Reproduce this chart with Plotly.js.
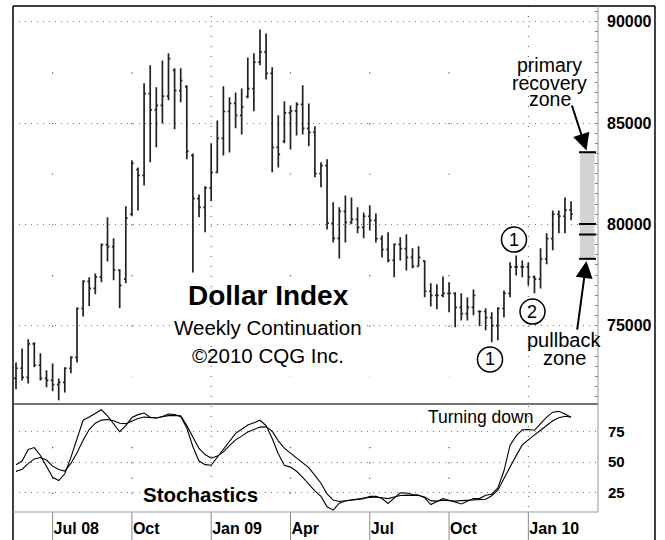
<!DOCTYPE html>
<html><head><meta charset="utf-8">
<script src="https://cdn.plot.ly/plotly-3.0.1.min.js"></script>
<style>html,body{margin:0;padding:0;background:#fff}#chart{width:665px;height:540px}</style>
</head><body><div id="chart"></div>
<script>
const weeks = ['2008-05-19','2008-05-26','2008-06-02','2008-06-09','2008-06-16','2008-06-23','2008-06-30','2008-07-07','2008-07-14','2008-07-21','2008-07-28','2008-08-04','2008-08-11','2008-08-18','2008-08-25','2008-09-01','2008-09-08','2008-09-15','2008-09-22','2008-09-29','2008-10-06','2008-10-13','2008-10-20','2008-10-27','2008-11-03','2008-11-10','2008-11-17','2008-11-24','2008-12-01','2008-12-08','2008-12-15','2008-12-22','2008-12-29','2009-01-05','2009-01-12','2009-01-19','2009-01-26','2009-02-02','2009-02-09','2009-02-16','2009-02-23','2009-03-02','2009-03-09','2009-03-16','2009-03-23','2009-03-30','2009-04-06','2009-04-13','2009-04-20','2009-04-27','2009-05-04','2009-05-11','2009-05-18','2009-05-25','2009-06-01','2009-06-08','2009-06-15','2009-06-22','2009-06-29','2009-07-06','2009-07-13','2009-07-20','2009-07-27','2009-08-03','2009-08-10','2009-08-17','2009-08-24','2009-08-31','2009-09-07','2009-09-14','2009-09-21','2009-09-28','2009-10-05','2009-10-12','2009-10-19','2009-10-26','2009-11-02','2009-11-09','2009-11-16','2009-11-23','2009-11-30','2009-12-07','2009-12-14','2009-12-21','2009-12-28','2010-01-04','2010-01-11','2010-01-18','2010-01-25','2010-02-01','2010-02-08','2010-02-15'];
const openP = [72400,72900,72450,74100,73050,72400,72300,72100,72200,72900,73440,75850,77190,76840,77400,79000,78900,77750,77300,80500,82700,82420,86450,85650,85870,86330,87600,86600,86800,83400,81270,80840,81800,82560,84240,85570,85970,85380,86300,86700,88000,88510,87450,83800,84100,85500,85600,85920,84740,84540,82500,82900,80060,79310,80640,80100,80250,79850,80400,80200,79300,78760,78230,79010,78800,78370,77930,78200,76700,76500,76500,76600,76600,75900,75600,75900,75700,75700,75400,75000,75850,76600,77900,77900,77900,77400,77300,78300,79300,80500,80400,80700];
const highP = [73190,73880,74330,74180,73640,72800,73140,72400,72950,73490,75900,77240,77390,77580,79060,80350,79310,77780,80890,83160,82810,86960,87850,86760,88090,88440,87700,87700,86860,83500,81480,81880,84000,85130,86810,86270,86510,86710,88240,88440,89620,89420,87750,85380,86070,85870,86020,86860,85970,84840,83060,83210,81090,80840,81430,81330,80840,80590,80940,80540,79460,79610,79060,79360,79510,78820,78920,78220,77090,77040,77430,77140,76650,76600,76400,76790,75760,75860,75660,75910,76740,78130,78470,78220,78130,77480,78820,79560,80690,80690,81330,81140];
const lowP = [71860,72300,72150,72950,72300,71960,71760,71320,71710,72650,73190,75460,75970,76550,77140,78170,77240,75860,77090,80400,80690,81920,83060,83800,84980,86120,84690,86020,83210,77630,80350,79610,81140,82520,83400,83550,84740,84440,86220,85580,87850,87150,82570,82810,84000,83700,84390,84440,83850,82320,81830,79750,79110,78320,79110,80000,79560,79310,79700,79110,78370,78130,77390,78220,77730,77830,77930,76400,75950,75810,76400,75660,74920,75260,75260,75510,74970,74770,74180,74280,75410,76400,77480,77390,76990,76600,76840,78030,78720,79560,79560,80200];
const closeP = [72900,72450,74100,73050,72400,72300,72100,72200,72900,73440,75850,77190,76840,77400,79000,78900,77750,76990,80310,83010,82420,86450,85650,85870,86330,88180,86600,87100,83600,81270,80840,81800,82560,84240,85570,85970,85380,85800,86700,88000,88510,87450,83800,83450,85500,85600,85920,84740,84540,82500,82900,80060,79310,80640,80100,80250,79850,80400,80200,79300,78760,78230,79010,78800,78370,77930,78370,76700,76500,76500,76600,76600,75900,75600,75900,76500,75700,75400,75000,75850,76600,77900,77900,77900,77400,77300,78300,79300,80500,80400,80700,80500];
const stochK = [48,51,60.5,62,55.5,46,37.6,35,40.5,54,69,84.4,87,90,93,88,81.8,75,80,86.6,89,90.3,86.9,86.3,87.5,89.5,89,87.4,78,62.7,51,48,47.5,54,60.3,67.5,73.6,77,80.5,82.3,84.4,80,69.5,57,47.4,46,42.6,37.5,32,26.5,22,13.5,10.7,16.4,18.2,18.7,19.2,20,22,22,20.2,16.2,20.5,25,24.8,23.6,23.2,20.8,15.3,17.8,20.2,18.8,17.3,15.8,18,20.2,20.2,23,23.8,29,43,64,71.6,76.5,76.8,76.2,81.7,87,91,91.7,89.5,86.9];
const stochD = [42.5,44.3,48.9,52.7,53.8,51.8,46.8,44,42.7,49,57.7,68,76.8,82,84.5,85,84,82,81.6,84,85.8,87,86.7,86.3,87.3,88.2,88.3,88,80,70.5,61.3,56.3,53.3,55,58.5,63.6,68.3,71.4,74.7,76.8,78.8,79,75.5,67.5,61.6,57.4,53.6,50,45.6,39.2,32.8,24,19,17.8,18.3,19.1,19.9,20.7,21.2,21.5,20.9,20.2,21.5,22.7,23,23,22.7,21.5,18.5,18.1,18.9,18.5,18.1,18.5,18.7,19.1,19.3,19.7,22.5,27,36.7,46.4,55.4,64.2,68.7,72.4,76.2,80.5,84,86.5,87.7,87];
const zoneLevels = [83560, 80020, 79500, 78300];
const priceTicks = [75000, 80000, 85000, 90000];
const stochTicks = [25, 50, 75];
const tickDates = ['2008-06-30','2008-09-29','2008-12-29','2009-03-30','2009-06-29','2009-09-28','2009-12-28'];
const tickLabels = ['Jul 08','Oct','Jan 09','Apr','Jul','Oct','Jan 10'];

const F = 'Liberation Sans, Arial, sans-serif';
const split = 0.2134;

const traces = [
  {type:'ohlc', x:weeks, open:openP, high:highP, low:lowP, close:closeP, xaxis:'x', yaxis:'y2',
   increasing:{line:{color:'#222', width:1.7}}, decreasing:{line:{color:'#222', width:1.7}}, tickwidth:0.3, hoverinfo:'skip'},
  {type:'scatter', mode:'lines', x:weeks, y:stochK, xaxis:'x', yaxis:'y', line:{color:'#000', width:1.1}, hoverinfo:'skip'},
  {type:'scatter', mode:'lines', x:weeks, y:stochD, xaxis:'x', yaxis:'y', line:{color:'#000', width:1.1}, hoverinfo:'skip'}
];

const shapes = [];
shapes.push({type:'rect', xref:'paper', yref:'y2', x0:0.9692, x1:0.994, y0:zoneLevels[3], y1:zoneLevels[0], fillcolor:'#d3d3d3', line:{width:0}, layer:'below'});
zoneLevels.forEach(v => shapes.push({type:'line', xref:'paper', yref:'y2', x0:0.9675, x1:0.9966, y0:v, y1:v, line:{color:'#000', width:2}}));
tickDates.forEach((d, k) => {
  if (tickLabels[k].indexOf('Jan') === 0) {
    shapes.push({type:'line', xref:'x', yref:'paper', x0:d, x1:d, y0:1, y1:0, line:{color:'#555', width:1, dash:'1px,9px'}, layer:'below'});
  } else {
    shapes.push({type:'line', xref:'x', yref:'y2', x0:d, x1:d, y0:priceTicks[3]-2500, y1:priceTicks[0]-2500, line:{color:'#555', width:1.2, dash:'1.2px,49.45px'}, layer:'below'});
    shapes.push({type:'line', xref:'x', yref:'y', x0:d, x1:d, y0:stochTicks[2]-12.5, y1:stochTicks[0]-12.5, line:{color:'#555', width:1.2, dash:'1.2px,14.05px'}, layer:'below'});
  }
  shapes.push({type:'line', xref:'x', yref:'paper', x0:d, x1:d, y0:0, y1:-0.07, line:{color:'#888', width:1}});
});
shapes.push({type:'line', xref:'paper', yref:'paper', x0:0, x1:0, y0:-0.07, y1:1, line:{color:'#000', width:1.5}});
shapes.push({type:'line', xref:'paper', yref:'paper', x0:0, x1:1.0974, y0:1, y1:1, line:{color:'#000', width:1.5}});
shapes.push({type:'line', xref:'paper', yref:'paper', x0:1.0974, x1:1.0974, y0:-0.07, y1:1, line:{color:'#000', width:1.5}});
shapes.push({type:'line', xref:'paper', yref:'paper', x0:0, x1:1, y0:split, y1:split, line:{color:'#444', width:1.5}});
shapes.push({type:'line', xref:'paper', yref:'paper', x0:0, x1:1, y0:0, y1:0, line:{color:'#999', width:1}});
shapes.push({type:'line', xref:'paper', yref:'paper', x0:1, x1:1, y0:0, y1:1, line:{color:'#999', width:1}});
const circ = [[0.8350,0.8778,0.5138,0.5632],[0.8667,0.9094,0.3715,0.4209],[0.7940,0.8368,0.2767,0.3261]];
circ.forEach(c => shapes.push({type:'circle', xref:'paper', yref:'paper', x0:c[0], x1:c[1], y0:c[2], y1:c[3], line:{color:'#000', width:1.5}, fillcolor:'rgba(255,255,255,0)'}));

function txt(t, x, y, size, extra) {
  return Object.assign({text:t, x:x, y:y, xref:'paper', yref:'paper', xanchor:'center', yanchor:'middle', showarrow:false, font:{family:F, size:size, color:'#000'}}, extra || {});
}
const annotations = [
  txt('<b>Dollar Index</b>', 0.4364, 0.4279, 28),
  txt('Weekly Continuation', 0.4364, 0.3644, 20.5, {bgcolor:'#fff'}),
  txt('©2010 CQG Inc.', 0.4364, 0.3089, 20.5),
  txt('<b>Stochastics</b>', 0.3197, 0.0336, 20.5, {bgcolor:'#fff'}),
  txt('Turning down', 0.7988, 0.1887, 17.5),
  txt('primary', 0.9179, 0.8834, 19.5),
  txt('recovery', 0.9179, 0.8488, 19.5),
  txt('zone', 0.9179, 0.8162, 19.5),
  txt('pullback', 0.9419, 0.3399, 20),
  txt('zone', 0.9419, 0.3043, 20),
  txt('1', 0.8564, 0.5385, 18),
  txt('2', 0.8880, 0.3962, 18),
  txt('1', 0.8154, 0.3014, 18),
  {text:'', x:0.9803, y:0.7144, xref:'paper', yref:'paper', showarrow:true, ax:-15, ay:-46.5, arrowhead:2, arrowsize:1.7, arrowwidth:2, arrowcolor:'#000'},
  {text:'', x:0.9803, y:0.4960, xref:'paper', yref:'paper', showarrow:true, ax:-9.5, ay:70, arrowhead:2, arrowsize:1.7, arrowwidth:2, arrowcolor:'#000'}
];

const layout = {
  width:665, height:540, margin:{l:13, r:67, t:6, b:28},
  paper_bgcolor:'#fff', plot_bgcolor:'#fff', showlegend:false,
  font:{family:F, color:'#000'},
  xaxis:{type:'date', domain:[0,1], anchor:'y', range:['2008-05-15 13:00','2010-03-17 22:00'],
    tickmode:'array', tickvals:tickDates, ticktext:tickLabels, ticks:'', showgrid:false, zeroline:false, showline:false,
    ticklabelposition:'outside right', ticklabelstandoff:5, ticklabelshift:1, tickfont:{family:F, size:16, color:'#000', weight:'bold'},
    rangeslider:{visible:false}, fixedrange:true},
  yaxis:{domain:[0, split], anchor:'x', side:'right', range:[9.2, 97.7], tickmode:'array', tickvals:stochTicks,
    ticks:'', showgrid:true, gridcolor:'#777', gridwidth:1, griddash:'1px,5px', zeroline:false, showline:false,
    tickfont:{family:F, size:15, color:'#000', weight:'bold'}, ticklabelstandoff:9},
  yaxis2:{domain:[split, 1], anchor:'x', side:'right', range:[71136, 90775], tickmode:'linear', tick0:0, dtick:5000,
    tickformat:'d', ticks:'inside', ticklen:3, tickcolor:'#888',
    minor:{dtick:500, tick0:0, ticks:'inside', ticklen:3, tickcolor:'#888', showgrid:false},
    showgrid:true, gridcolor:'#777', gridwidth:1, griddash:'1px,5px', zeroline:false, showline:false,
    tickfont:{family:F, size:16, color:'#000', weight:'bold'}, ticklabelstandoff:8},
  shapes:shapes, annotations:annotations
};
Plotly.newPlot('chart', traces, layout, {staticPlot:true, displayModeBar:false});
</script></body></html>
